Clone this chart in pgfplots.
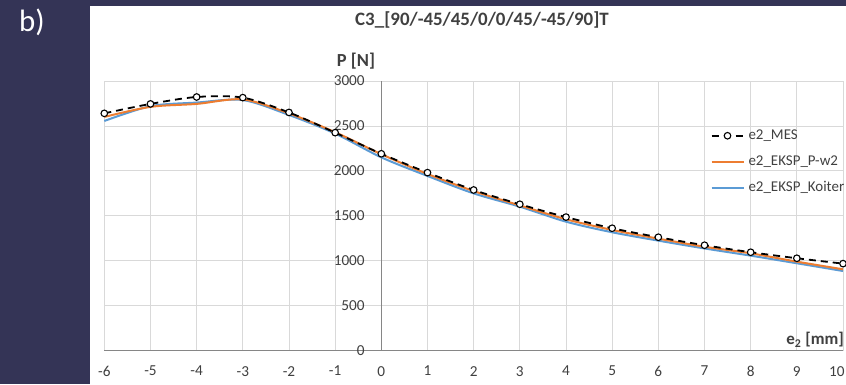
\documentclass[border=0pt]{standalone}
\usepackage{fontspec}
\setmainfont{Carlito}
\usepackage{pgfplots}
\pgfplotsset{compat=1.18}
\definecolor{bgdark}{RGB}{52,52,86}
\definecolor{xlorange}{RGB}{237,125,49}
\definecolor{xlblue}{RGB}{91,155,213}
\definecolor{gridc}{RGB}{217,217,217}
\definecolor{axc}{RGB}{134,134,134}
\definecolor{txt}{RGB}{64,64,64}
\pgfplotsset{
  xl line legend/.style={legend image code/.code={\draw[##1] (0bp,0bp) -- (32bp,0bp);}},
  xl mark legend/.style={legend image code/.code={\draw[mark repeat=2,mark phase=2,##1] plot coordinates {(0bp,0bp) (16bp,0bp) (32bp,0bp)};}},
  messtyle/.style={black, line width=1.8bp, dash pattern=on 7bp off 5bp, mark=*, mark size=3.3bp, mark options={solid, fill=white, draw=black, line width=1.1bp}},
  orstyle/.style={xlorange, line width=2bp, no markers},
  blstyle/.style={xlblue, line width=2bp, no markers},
}
\begin{document}
\begin{tikzpicture}[x=1bp,y=1bp]
\fill[bgdark] (0,0) rectangle (846,384);
\fill[white] (90,0) rectangle (846,378);
\node[text=white, font=\fontsize{31}{34}\selectfont] at (32,362) {b)};
\begin{axis}[
  at={(104.3bp,33.5bp)}, anchor=south west,
  scale only axis, width=738.7bp, height=269.5bp,
  xmin=-6, xmax=10, ymin=0, ymax=3000,
  xtick={-6,-5,...,10}, ytick={0,500,...,3000},
  xticklabels={-6,-5,-4,-3,-2,-1,0,1,2,3,4,5,6,7,8,9,{\hbox to 0pt{\hss 10\kern-1.5bp}}},
  grid=major, major grid style={gridc, line width=0.8bp},
  axis x line=bottom, axis y line=middle,
  x axis line style={-, axc, line width=1bp},
  y axis line style={-, axc, line width=1bp},
  tick style={draw=none},
  hide obscured x ticks=false, hide obscured y ticks=false,
  ticklabel style={font=\fontsize{15.3}{18}\selectfont, text=txt},
  xticklabel style={yshift=-10bp},
  yticklabel style={xshift=-11bp},
  /pgf/number format/assume math mode=true,
  /pgf/number format/1000 sep={},
  clip=false,
  legend style={draw=none, fill=none, inner sep=0pt, outer sep=0pt,
    at={(axis cs:7.13,2474)}, anchor=north west,
    font=\fontsize{15}{18}\selectfont, text=txt,
    row sep=11bp, column sep=4bp,
    nodes={inner sep=0pt, text height=11bp, text depth=4bp}},
  legend cell align=left,
]
\addlegendimage{messtyle, xl mark legend}
\addlegendentry{e2\_MES}
\addlegendimage{orstyle, xl line legend}
\addlegendentry{e2\_EKSP\_P-w2}
\addlegendimage{blstyle, xl line legend}
\addlegendentry{e2\_EKSP\_Koiter}

\addplot[blstyle, smooth, forget plot] coordinates {
(-6,2555) (-5,2720) (-4,2760) (-3,2788) (-2,2622) (-1,2415) (0,2150) (1,1943) (2,1749) (3,1601) (4,1434) (5,1316) (6,1223) (7,1136) (8,1056) (9,971) (10,885)};
\addplot[orstyle, smooth, forget plot] coordinates {
(-6,2600) (-5,2712) (-4,2745) (-3,2795) (-2,2640) (-1,2430) (0,2185) (1,1965) (2,1775) (3,1615) (4,1461) (5,1342) (6,1245) (7,1155) (8,1082) (9,989) (10,904)};
\addplot[messtyle, smooth, forget plot] coordinates {
(-6,2640) (-5,2745) (-4,2822) (-3,2815) (-2,2650) (-1,2425) (0,2190) (1,1980) (2,1787) (3,1628) (4,1485) (5,1361) (6,1261) (7,1172) (8,1094) (9,1027) (10,967)};
\end{axis}
\node[font=\bfseries\fontsize{19}{22}\selectfont, text=txt] at (482,364) {C3\_[90/-45/45/0/0/45/-45/90]T};
\node[font=\bfseries\fontsize{18.5}{21}\selectfont, text=txt] at (356,323.3) {P [N]};
\node[font=\bfseries\fontsize{17}{20}\selectfont, text=txt, anchor=east, inner sep=0pt] at (844,44) {e\textsubscript{2} [mm]};
\pgfresetboundingbox
\path[use as bounding box] (0,0) rectangle (846,384);
\end{tikzpicture}
\end{document}
